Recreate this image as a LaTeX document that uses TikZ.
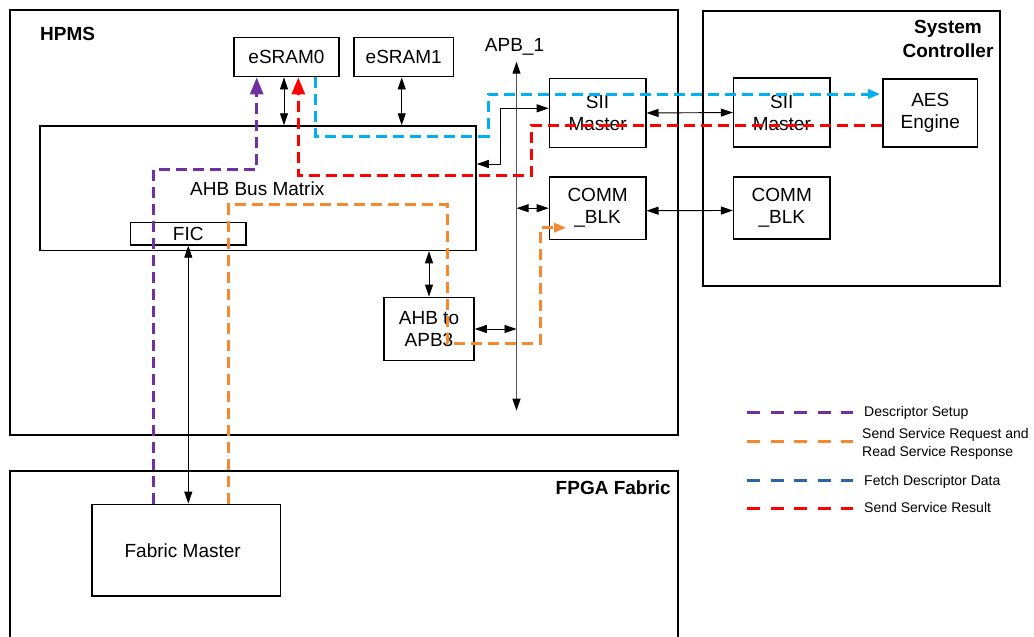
\documentclass[tikz,border=0pt]{standalone}
\usepackage{fontspec}
\setmainfont{Liberation Sans}
\usetikzlibrary{arrows.meta,calc}

\definecolor{cpurple}{HTML}{7030A0}
\definecolor{corange}{HTML}{F5892F}
\definecolor{cblue}{HTML}{00B0F0}
\definecolor{cdblue}{HTML}{2E62AC}
\definecolor{cred}{HTML}{FF0000}
\definecolor{cgray}{HTML}{555555}

\begin{document}
\begin{tikzpicture}[x=1pt,y=-1pt,
  every node/.style={font=\fontsize{19}{22}\selectfont, inner sep=0pt},
  box/.style={draw, line width=1.5pt, align=center},
  title/.style={font=\fontsize{19}{22}\selectfont\bfseries},
  legtext/.style={font=\fontsize{14}{17}\selectfont, anchor=base west},
  barrow/.style={line width=0.9pt, {Triangle[length=12pt,width=8pt]}-{Triangle[length=12pt,width=8pt]}},
  flow/.style={line width=3pt, dash pattern=on 11pt off 6pt},
  bigtip/.style={-{Triangle[length=17pt,width=13pt]}},
  smalltip/.style={-{Triangle[length=12pt,width=9pt]}},
  legline/.style={line width=3pt, dash pattern=on 13pt off 10.5pt},
]
\useasboundingbox (0,0) rectangle (1034,637);

% ---- outer regions ----
\node[box, minimum width=668, minimum height=425] (hpms) at (344,222.5) {};
\node[box, minimum width=297, minimum height=275] (sc) at (851.5,148.5) {};
\draw[line width=1.5pt] (10,640) -- (10,471) -- (678,471) -- (678,640);

\node[title, anchor=base west] (hpmstitle) at (40,40) {HPMS};
\node[title, anchor=base] (sct1) at (948,34) {System};
\node[title, anchor=base] (sct2) at (948,57) {Controller};
\node[title, anchor=base east] (fpgatitle) at (671,494) {FPGA Fabric};

% ---- blocks ----
\node[box, minimum width=105, minimum height=39] (esram0) at (286.5,57.2) {eSRAM0};
\node[box, minimum width=99.3, minimum height=39] (esram1) at (403.7,57.2) {eSRAM1};
\node[box, minimum width=436, minimum height=124.5] (ahb) at (258,188.25) {};
\node[anchor=base west] (ahblabel) at (190,195) {AHB Bus Matrix};
\node[box, minimum width=115.3, minimum height=22.7] (fic) at (188.3,233.6) {FIC};
\node[box, minimum width=96.3, minimum height=69] (sii1) at (597.6,113) {SII\\Master};
\node[box, minimum width=96.3, minimum height=62.3] (comm1) at (597.6,208.2) {COMM\\\_BLK};
\node[box, minimum width=96.3, minimum height=69] (sii2) at (781.8,112.5) {SII\\Master};
\node[box, minimum width=96.3, minimum height=62] (comm2) at (781.8,208) {COMM\\\_BLK};
\node[box, minimum width=94.7, minimum height=68] (aes) at (930.3,113) {AES\\Engine};
\node[box, minimum width=90, minimum height=63.4] (apb3) at (429,329) {AHB to\\APB3};
\node[box, minimum width=188.4, minimum height=91.7] (fm) at (186.4,550.2) {};
\node[anchor=base] (fmlabel) at (182.7,557.7) {Fabric Master};

% ---- APB_1 bus ----
\coordinate (apbtop) at (516.5,61.7);
\coordinate (apbbot) at (516.5,410.7);
\draw[cgray, line width=1pt, {Triangle[length=12pt,width=8pt,fill=black,color=black]}-{Triangle[length=12pt,width=8pt,fill=black,color=black]}] (apbbot) -- (apbtop);
\node[anchor=base] (apblabel) at (514.5,51) {APB\_1};

% ---- black bus connections ----
\coordinate (ax1) at (284,0);
\coordinate (ax2) at (401.7,0);
\draw[barrow] (esram0.south -| ax1) -- (ahb.north -| ax1);
\draw[barrow] (esram1.south -| ax2) -- (ahb.north -| ax2);
\draw[barrow] (sii1.east) -- (sii2.west);
\draw[barrow] ($(comm1.east)+(0,2.5)$) -- ($(comm2.west)+(0,2.5)$);
\draw[barrow] (apbtop |- comm1.west) -- (comm1.west);
\draw[barrow] (apb3.east) -- (apbtop |- apb3.east);
\draw[barrow] (ahb.south -| apb3.north) -- (apb3.north);
\draw[barrow] (fic.south) -- (fic.south |- fm.north);
\coordinate (ky1) at (0,164);
\coordinate (ky2) at (500,108.3);
\draw[barrow] (ahb.east |- ky1) -| (ky2) -- (sii1.west |- ky2);

% ---- data flows ----
% descriptor setup
\coordinate (pv) at (153.5,0);
\coordinate (pc) at (256.7,169.3);
\draw[flow, cpurple, bigtip] (fm.north -| pv) |- (pc) -- (esram0.south -| pc);
% service request / response
\coordinate (ov) at (228.5,0);
\coordinate (oc1) at (447,204.5);
\coordinate (oc2) at (540,343.3);
\coordinate (oend) at ($(comm1.west)+(17.5,19.5)$);
\draw[flow, corange, smalltip] (fm.north -| ov) |- (oc1) |- (oc2) |- (oend);
% fetch descriptor data
\coordinate (bv) at (315.7,0);
\coordinate (bc1) at (488.3,136);
\coordinate (by) at (0,94);
\draw[flow, cblue, smalltip, shorten >=2pt] (esram0.south -| bv) |- (bc1) |- (aes.west |- by);
% service result
\coordinate (ry) at (0,125.4);
\coordinate (rc1) at (531.7,175);
\coordinate (rv) at (298.3,0);
\draw[flow, cred, bigtip] (aes.west |- ry) -| (rc1) -| (esram0.south -| rv);

% ---- legend ----
\draw[legline, cpurple] (747,412.7) -- (853,412.7);
\node[legtext] (l1) at (864,416) {Descriptor Setup};
\draw[legline, corange] (747,441.7) -- (853,441.7);
\node[legtext] (l2a) at (862,438) {Send Service Request and};
\node[legtext] (l2b) at (862,456) {Read Service Response};
\draw[legline, cdblue] (747,480.7) -- (853,480.7);
\node[legtext] (l3) at (864,485) {Fetch Descriptor Data};
\draw[legline, cred] (747,508.3) -- (853,508.3);
\node[legtext] (l4) at (864,512.7) {Send Service Result};
\end{tikzpicture}
\end{document}
